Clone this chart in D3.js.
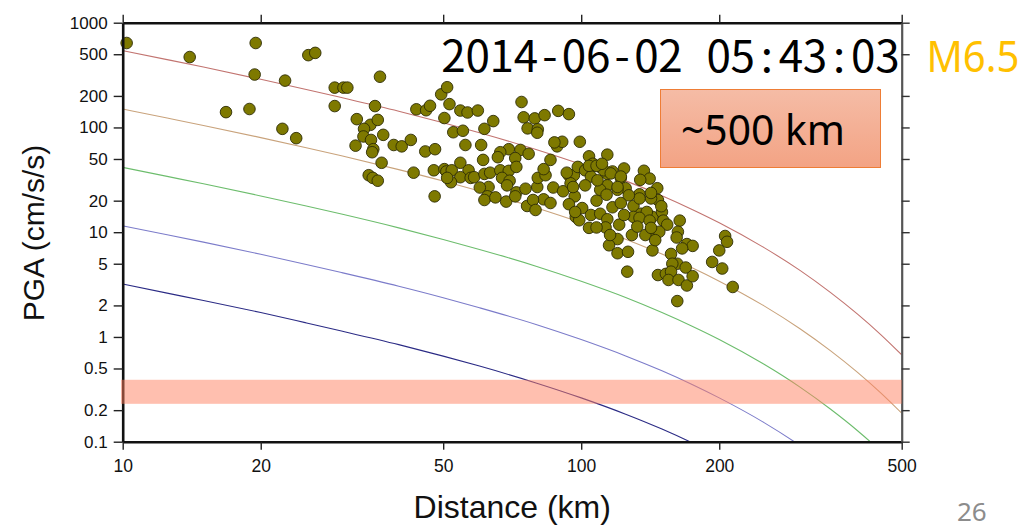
<!DOCTYPE html>
<html>
<head>
<meta charset="utf-8">
<script src="https://cdn.jsdelivr.net/npm/d3@7"></script>
<style>
  html, body { margin: 0; padding: 0; background: #fff; }
  svg { display: block; }
</style>
</head>
<body>
<svg id="chart" width="1028" height="528"></svg>
<script>
// Axis ticks
const xTicks = [10, 20, 50, 100, 200, 500];
const yTicks = [1000, 500, 200, 100, 50, 20, 10, 5, 2, 1, 0.5, 0.2, 0.1];

// Attenuation curves: PGA (cm/s/s) against distance (km)
const curveDistance = [10, 12.5, 15, 20, 25, 30, 40, 50, 60, 80, 100, 125, 150, 175, 200, 250, 300, 350, 400, 450, 500];
const pgaCurveA = [541, 444, 377, 288, 232, 193, 143, 111, 89.1, 61.2, 44.3, 30.9, 22.3, 16.4, 12.3, 7.16, 4.32, 2.65, 1.66, 1.054, 0.675];
const pgaCurveB = [150, 123, 104.5, 80.0, 64.4, 53.6, 39.6, 30.8, 24.7, 17.0, 12.3, 8.57, 6.18, 4.55, 3.41, 1.99, 1.197, 0.736, 0.461, 0.292, 0.187];
const pgaCurveC = [41.6, 34.1, 29.0, 22.2, 17.9, 14.9, 11.0, 8.53, 6.85, 4.71, 3.40, 2.38, 1.71, 1.26, 0.946, 0.551, 0.332, 0.204, 0.128, 0.0811, 0.0519];
const pgaCurveD = [11.5, 9.46, 8.04, 6.15, 4.95, 4.12, 3.05, 2.37, 1.90, 1.31, 0.944, 0.659, 0.475, 0.350, 0.262, 0.153, 0.0920, 0.0566, 0.0355, 0.0225, 0.0144];
const pgaCurveE = [3.20, 2.62, 2.23, 1.71, 1.37, 1.14, 0.845, 0.656, 0.527, 0.362, 0.262, 0.183, 0.132, 0.0971, 0.0728, 0.0424, 0.0257, 0.0157, 0.0098, 0.0062, 0.0040];
const curveColors = ["#c27470", "#c9a37c", "#6dbd6d", "#7c7cca", "#2b2b85"];

// Observed station records
const stationDistance = [
  10.2, 14.0, 19.5, 19.4, 22.6, 16.8, 18.9, 22.3, 23.9, 25.4, 26.3, 29.0, 30.3, 30.9, 29.0,
  36.4, 35.5, 32.4, 34.7, 36.0, 33.6, 37.0, 33.5, 34.8, 32.2, 35.2, 35.0, 36.7, 34.4, 35.1, 36.0,
  39.0, 40.6, 42.5, 43.1, 45.7, 48.0, 43.7, 45.9, 46.8, 49.5, 51.0, 51.6, 50.3, 54.5, 56.5,
  52.6, 55.2, 55.9, 47.7, 50.3, 50.8, 52.2, 54.5, 56.8, 54.5, 52.0, 51.0, 57.4, 47.9,
  74.1, 89.1, 94.0, 74.9, 79.2, 83.2, 76.4, 80.4, 80.2, 59.5, 64.3, 61.5, 60.5, 69.5, 73.7,
  76.8, 66.6, 71.8, 65.8, 61.1, 58.4, 61.5, 63.3, 66.6, 69.5, 72.2, 67.2, 69.8, 68.9, 62.8,
  60.1, 62.4, 61.5, 65.0, 68.6, 72.2, 75.6, 80.2, 80.4, 83.6, 82.8, 85.7, 88.6, 90.9, 87.4,
  99.3, 86.9, 91.3, 93.9, 96.4, 94.8, 98.3, 104, 102, 105, 105, 110, 114, 114, 102, 96.8,
  94.0, 108, 76.2, 82.8, 85.7, 78.5, 71.8, 100.5, 105, 97.3, 110, 114, 106, 112, 117, 124,
  122, 137, 141, 146.5, 125, 120, 134, 147, 142, 117, 130, 135, 143, 150, 151, 154, 113, 121,
  129, 142, 148, 138, 164, 162.5, 161.5, 170, 175, 166, 120, 115, 120, 126.5, 143, 157, 162,
  158, 169, 126, 147, 153, 157, 155, 163, 170, 175, 162, 206, 208, 200, 193, 203, 214,
  104, 108, 111, 93, 116, 122, 96, 114, 120, 122, 134, 142, 139, 130, 134, 99, 104, 79.5,
  97, 141, 142, 110, 113.6, 127, 132.5, 145, 124, 115.6, 149.5, 134.5, 108.5, 108
];
const stationPGA = [
  640, 470, 640, 320, 280, 140, 150, 97, 79, 490, 515, 240, 240, 240, 160,
  305, 160, 120, 106, 118, 97, 85, 82, 76, 67, 62, 58, 46, 35, 33, 31,
  68, 66, 76, 37, 59, 62, 149, 146, 161, 207, 242, 167, 123, 145, 139,
  90, 93, 68, 39, 40, 38, 39, 46, 39, 33.5, 30, 33, 33, 22,
  175, 144, 134, 125, 122, 131, 98, 96, 89, 145, 115, 97, 68, 62, 61,
  56, 58, 51, 52, 49, 33.5, 36, 37, 39, 38.5, 42, 33, 31, 28, 27,
  26.7, 22, 20.3, 21.5, 19.6, 24, 26, 27, 33, 35, 40, 49, 66, 73, 72,
  73, 26.7, 24.6, 35, 35, 29.3, 42, 53, 39, 42, 34, 42, 55, 36, 28, 22,
  18.5, 20, 17.8, 20.6, 19, 20.3, 22, 17, 14.6, 14, 15, 13.3, 45, 39, 38, 40.6,
  33, 38.6, 32.5, 26.3, 26.3, 25.4, 23, 20.3, 21, 17.3, 17.8, 15, 14, 15.6, 12.9, 11.8, 11.1, 11.8,
  9.4, 10.5, 10.1, 9.4, 12.9, 10.1, 8.9, 7.7, 7.4, 7.0, 8.6, 7.5, 6.3, 6.5, 6.7, 6.2, 5.0,
  5.0, 4.6, 4.2, 3.9, 4.0, 4.2, 3.5, 3.5, 3.1, 3.8, 2.2, 9.2, 8.1, 6.7, 5.2, 4.5, 3.0,
  43, 43, 45, 37, 36.4, 34, 27, 28, 27, 19, 21, 23.7, 15.6, 14, 13.7, 13, 11, 16.3,
  15.6, 12.9, 11, 25.4, 22.8, 22.5, 11.3, 8.4, 14.6, 9.4, 17.7, 31.6, 31.3, 11.1
];

// Shaded PGA band and annotations
const bandPGA = [0.23, 0.39];
const eventTime = "2014-06-02 05:43:03";
const eventMagnitude = "M6.5";
const rangeNote = "~500 km";
const pageNumber = "26";

const svg = d3.select("#chart");

const x = d3.scaleLog().domain([10, 500]).range([122.7, 901.7]);
const y = d3.scaleLog().domain([0.1, 1000]).range([441.7, 22.7]);

const [x0, x1] = x.range();
const [y0, y1] = [y(1000), y(0.1)];

const defs = svg.append("defs");
defs.append("clipPath").attr("id", "plot-clip")
  .append("rect").attr("x", x0).attr("y", y0).attr("width", x1 - x0).attr("height", y1 - y0);

// Attenuation curves
const curves = [pgaCurveA, pgaCurveB, pgaCurveC, pgaCurveD, pgaCurveE];
const line = d3.line()
  .x(d => x(d[0]))
  .y(d => y(d[1]))
  .curve(d3.curveMonotoneX);

svg.append("g").attr("clip-path", "url(#plot-clip)")
  .selectAll("path")
  .data(curves)
  .join("path")
  .attr("d", vals => line(curveDistance.map((d, i) => [d, vals[i]])))
  .attr("fill", "none")
  .attr("stroke", (d, i) => curveColors[i])
  .attr("stroke-width", 1.1);

// Station markers
const stations = stationDistance.map((d, i) => ({ dist: d, pga: stationPGA[i] }));
svg.append("g")
  .selectAll("circle")
  .data(stations)
  .join("circle")
  .attr("cx", d => x(d.dist))
  .attr("cy", d => y(d.pga))
  .attr("r", 5.8)
  .attr("fill", "#7e7900")
  .attr("stroke", "#2e2c05")
  .attr("stroke-width", 0.9);

// Axes
const fmt = d => String(d);

const gLeft = svg.append("g").attr("transform", `translate(${x0},0)`)
  .call(d3.axisLeft(y).tickValues(yTicks).tickFormat(fmt).tickSize(9).tickSizeOuter(0).tickPadding(6));
const gBottom = svg.append("g").attr("transform", `translate(0,${y1})`)
  .call(d3.axisBottom(x).tickValues(xTicks).tickFormat(fmt).tickSize(8).tickSizeOuter(0).tickPadding(10));
const gTop = svg.append("g").attr("transform", `translate(0,${y0})`)
  .call(d3.axisTop(x).tickValues(xTicks).tickFormat("").tickSize(8).tickSizeOuter(0));
const gRight = svg.append("g").attr("transform", `translate(${x1},0)`)
  .call(d3.axisRight(y).tickValues(yTicks).tickFormat("").tickSize(8).tickSizeOuter(0));

[gLeft, gBottom, gTop].forEach(g => {
  g.select(".domain").attr("stroke", "#111").attr("stroke-width", 2.6);
  g.selectAll(".tick line").attr("stroke", "#222").attr("stroke-width", 1.4);
});
gRight.select(".domain").attr("stroke", "#555").attr("stroke-width", 2.2);
gRight.selectAll(".tick line").attr("stroke", "#333").attr("stroke-width", 1.4);

gLeft.selectAll(".tick text")
  .attr("font-family", "'Liberation Sans', Arial, sans-serif")
  .attr("font-size", 17).attr("fill", "#111");
gBottom.selectAll(".tick text")
  .attr("font-family", "'Liberation Sans', Arial, sans-serif")
  .attr("font-size", 17.5).attr("fill", "#111");

// Axis titles
svg.append("text")
  .attr("x", (x0 + x1) / 2).attr("y", 518)
  .attr("text-anchor", "middle")
  .attr("font-family", "'Liberation Sans', Arial, sans-serif")
  .attr("font-size", 32).attr("fill", "#111")
  .text("Distance (km)");

svg.append("text")
  .attr("transform", `translate(43.5,233) rotate(-90)`)
  .attr("text-anchor", "middle")
  .attr("font-family", "'Liberation Sans', Arial, sans-serif")
  .attr("font-size", 30).attr("fill", "#111")
  .text("PGA (cm/s/s)");

// Shaded band across the plot
svg.append("rect")
  .attr("x", x0 - 1.7)
  .attr("y", y(bandPGA[1]))
  .attr("width", x1 - x0 + 1.7)
  .attr("height", y(bandPGA[0]) - y(bandPGA[1]))
  .attr("fill", "#ff7f5f")
  .attr("opacity", 0.5);

// Event header: fixed-pitch cells, one glyph centred in each
const cell = 24.1;
svg.append("text")
  .attr("y", 71.5)
  .attr("font-family", "'Noto Sans CJK KR', 'Noto Sans CJK JP', sans-serif")
  .attr("font-size", 44).attr("fill", "#000")
  .attr("text-anchor", "middle")
  .selectAll("tspan")
  .data(eventTime.split(""))
  .join("tspan")
  .attr("x", (c, i) => 441.5 + cell * (i + 0.5))
  .text(c => c);

svg.append("text")
  .attr("x", 926.5).attr("y", 71.5)
  .attr("font-family", "'Noto Sans', sans-serif")
  .attr("font-size", 44).attr("fill", "#ffc000")
  .attr("textLength", 93).attr("lengthAdjust", "spacingAndGlyphs")
  .text(eventMagnitude);

// Range note box
const grad = defs.append("linearGradient")
  .attr("id", "note-fill").attr("x1", 0).attr("y1", 0).attr("x2", 0).attr("y2", 1);
grad.append("stop").attr("offset", "0%").attr("stop-color", "#f5bca6");
grad.append("stop").attr("offset", "100%").attr("stop-color", "#f3a384");

svg.append("rect")
  .attr("x", 660.5).attr("y", 89.5).attr("width", 220).attr("height", 78)
  .attr("fill", "url(#note-fill)")
  .attr("stroke", "#ee7d36").attr("stroke-width", 1);

svg.append("text")
  .attr("x", 681).attr("y", 145)
  .attr("font-family", "'Noto Sans', sans-serif")
  .attr("font-size", 41).attr("fill", "#000")
  .attr("textLength", 164).attr("lengthAdjust", "spacingAndGlyphs")
  .text(rangeNote);

// Page number
svg.append("text")
  .attr("x", 957).attr("y", 521)
  .attr("font-family", "'Noto Sans', sans-serif")
  .attr("font-size", 26).attr("fill", "#8c8c8c")
  .text(pageNumber);
</script>
</body>
</html>
